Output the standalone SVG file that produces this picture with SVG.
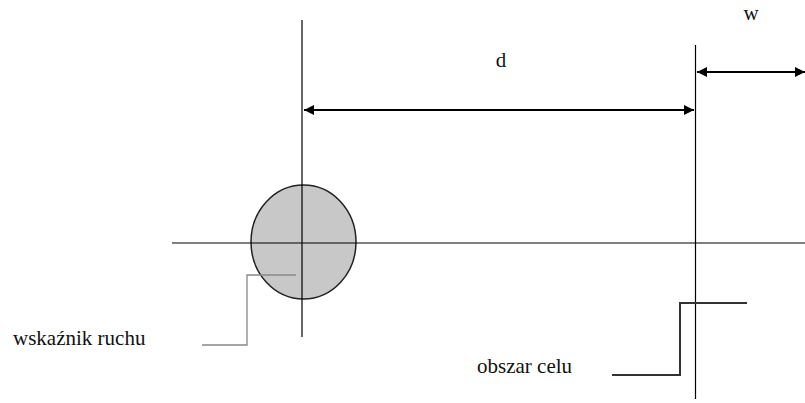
<svg xmlns="http://www.w3.org/2000/svg" width="805" height="403" viewBox="0 0 805 403">
<style>
.ln{stroke:#000;stroke-width:1.2;fill:none}
.dim{stroke:#000;stroke-width:2;fill:none}
.gr{stroke:#888;stroke-width:1.3;fill:none}
.st{stroke:#333;stroke-width:2;fill:none}
text{font-family:"Liberation Serif","Times New Roman",serif;font-size:21px;fill:#111}
</style>
<defs>
<marker id="ah" viewBox="0 0 10 10" refX="10" refY="5" markerWidth="5" markerHeight="5" orient="auto-start-reverse" markerUnits="strokeWidth">
<path d="M0,0 L10,5 L0,10 z" fill="#000"/>
</marker>
</defs>
<rect width="805" height="403" fill="#fff"/>
<g id="pointer">
<ellipse cx="303.5" cy="242" rx="52.5" ry="57" fill="#c8c8c8" stroke="#222" stroke-width="1.5"/>
</g>
<g id="axes">
<line class="ln" x1="302" y1="20" x2="302" y2="337"/>
<line class="ln" x1="695.5" y1="45" x2="695.5" y2="399"/>
<line class="ln" x1="172" y1="243" x2="805" y2="243"/>
</g>
<g id="connectors">
<line class="dim" x1="304" y1="110" x2="694" y2="110" marker-start="url(#ah)" marker-end="url(#ah)"/>
<line class="dim" x1="697" y1="72" x2="805" y2="72" marker-start="url(#ah)" marker-end="url(#ah)"/>
<polyline class="gr" points="296,275 247,275 247,345 202,345"/>
<polyline class="st" points="612,375 680,375 680,303 747,303"/>
</g>
<g id="labels">
<text x="501" y="67" text-anchor="middle">d</text>
<text x="751" y="20" text-anchor="middle">w</text>
<text x="13" y="345">wskaźnik ruchu</text>
<text x="477" y="373">obszar celu</text>
</g>
</svg>
